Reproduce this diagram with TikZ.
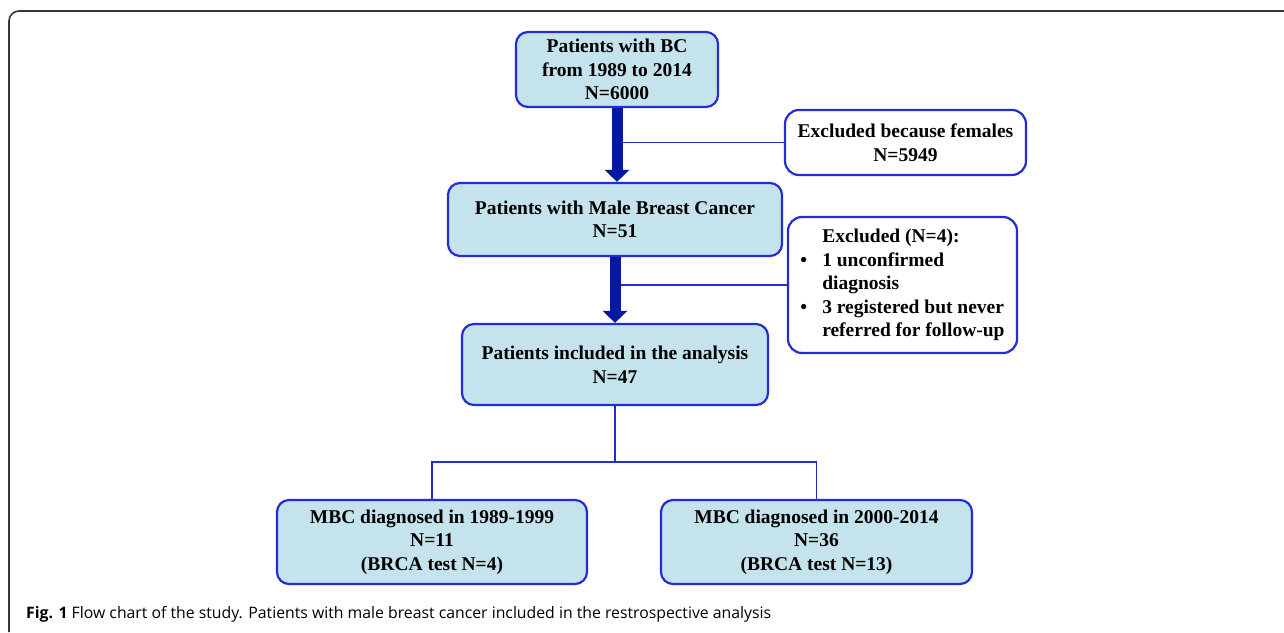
\documentclass[tikz,border=0pt]{standalone}
\usepackage{fontspec}
\setmainfont{Liberation Serif}
\newfontfamily\capfont{Open Sans}
\usetikzlibrary{arrows.meta}
\definecolor{boxfill}{RGB}{197,227,237}
\definecolor{boxedge}{RGB}{35,45,215}
\definecolor{arrowblue}{RGB}{5,25,160}
\definecolor{framegray}{RGB}{55,55,55}
\begin{document}
\begin{tikzpicture}[x=1pt,y=-1pt,
  boxtext/.style={font=\bfseries\fontsize{19.5}{23.5}\selectfont},
  flowbox/.style={boxtext, draw=boxedge, line width=2.2pt, fill=boxfill, rounded corners=12pt, align=center, inner sep=0pt},
  exbox/.style={boxtext, draw=boxedge, line width=2.2pt, fill=white, rounded corners=14pt, align=center, inner sep=0pt},
  bigarrow/.style={draw=arrowblue, line width=11pt, -{Triangle[width=24pt,length=12pt]}},
  thinline/.style={draw=boxedge, line width=1.8pt}]
\useasboundingbox (0,0) rectangle (1284,632);
\draw[framegray, line width=1.6pt, rounded corners=10pt] (9,632) -- (9,11) -- (1284,11);

\node[flowbox, minimum width=202pt, minimum height=75pt] (b1) at (617,69.5) {Patients with BC\\from 1989 to 2014\\N=6000};
\node[exbox, minimum width=241pt, minimum height=65pt] (e1) at (905.5,142.5) {Excluded because females\\N=5949};
\node[flowbox, minimum width=334pt, minimum height=73pt] (b2) at (615,219.5) {Patients with Male Breast Cancer\\N=51};
\node[exbox, minimum width=229pt, minimum height=136pt] (e2) at (902.5,285) {\begin{tabular}{@{}l@{\hspace{15pt}}l@{}}
 & Excluded (N=4):\\
\textbullet & 1 unconfirmed\\
 & diagnosis\\
\textbullet & 3 registered but never\\
 & referred for follow-up
\end{tabular}};
\node[flowbox, minimum width=306pt, minimum height=81pt] (b3) at (615,364.5) {Patients included in the analysis\\N=47};
\node[flowbox, minimum width=310pt, minimum height=84pt] (bl) at (432,542) {MBC diagnosed in 1989-1999\\N=11\\(BRCA test N=4)};
\node[flowbox, minimum width=311pt, minimum height=84pt] (br) at (816.5,542) {MBC diagnosed in 2000-2014\\N=36\\(BRCA test N=13)};

\draw[thinline] (e1.west) -- (e1.west -| b1.south);
\draw[thinline] (e2.west) -- (e2.west -| b2.south);
\draw[bigarrow] (b1.south) -- (b1.south |- b2.north);
\draw[bigarrow] (b2.south) -- (b2.south |- b3.north);

\path (b3.south) ++(0,56) coordinate (split);
\draw[thinline] (b3.south) -- (split);
\draw[thinline] (bl.north) |- (split) -| (br.north);

\node[anchor=base west, inner sep=0pt, font=\capfont\fontsize{15.8}{18}\selectfont] (cap) at (26,618.5) {\textbf{Fig. 1} Flow chart of the study. Patients with male breast cancer included in the restrospective analysis};
\end{tikzpicture}
\end{document}
